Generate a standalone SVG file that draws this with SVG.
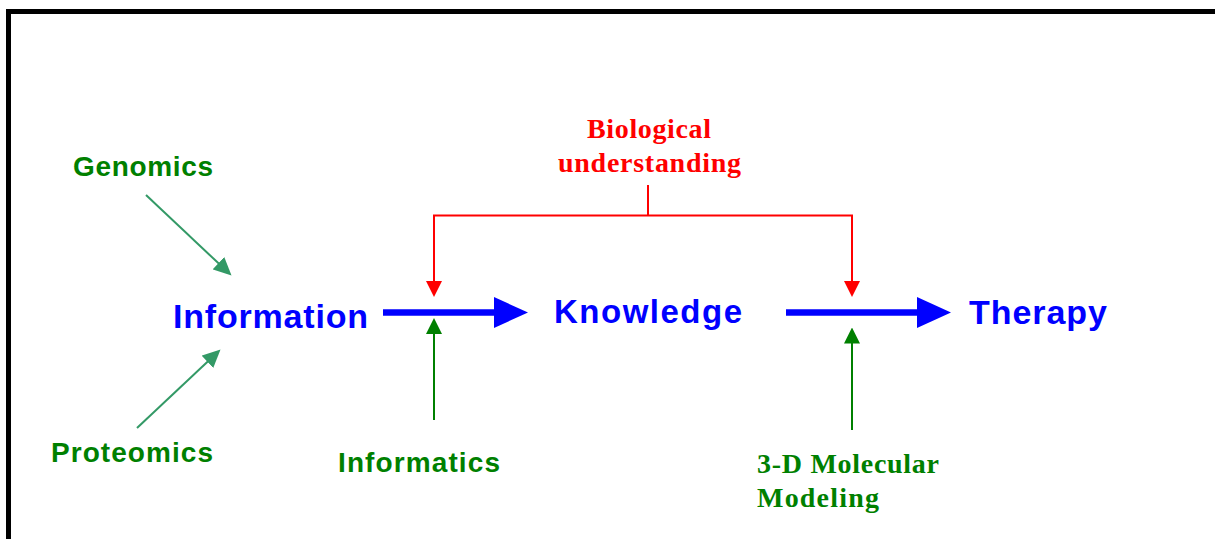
<svg xmlns="http://www.w3.org/2000/svg" width="1216" height="539" viewBox="0 0 1216 539">
  <style>
    .sans { font-family: "Liberation Sans", Arial, sans-serif; font-weight: bold; }
    .serif { font-family: "Liberation Serif", "Times New Roman", serif; font-weight: bold; }
    .blue { fill: #0000ff; }
    .green { fill: #008000; }
    .red { fill: #ff0000; }
    .flow { stroke: #0000ff; stroke-width: 6.5; fill: none; }
    .bio { stroke: #ff0000; stroke-width: 2; fill: none; }
    .tool { stroke: #008000; stroke-width: 2; fill: none; }
    .omics { stroke: #339966; stroke-width: 2; fill: none; }
  </style>
  <defs>
    <marker id="head-blue" markerUnits="userSpaceOnUse" markerWidth="34" markerHeight="31" refX="2" refY="15.5" orient="auto">
      <path d="M0,0 L34,15.5 L0,31 z" fill="#0000ff"/>
    </marker>
    <marker id="head-red" markerUnits="userSpaceOnUse" markerWidth="16" markerHeight="16" refX="8" refY="8" orient="auto">
      <path d="M0,0 L16,8 L0,16 z" fill="#ff0000"/>
    </marker>
    <marker id="head-green" markerUnits="userSpaceOnUse" markerWidth="16" markerHeight="16" refX="8" refY="8" orient="auto">
      <path d="M0,0 L16,8 L0,16 z" fill="#008000"/>
    </marker>
    <marker id="head-teal" markerUnits="userSpaceOnUse" markerWidth="18" markerHeight="17" refX="10" refY="8.5" orient="auto">
      <path d="M0,0 L18,8.5 L0,17 z" fill="#339966"/>
    </marker>
  </defs>

  <rect width="1216" height="539" fill="#ffffff"/>

  <!-- frame -->
  <path d="M8.5,539 V11.5 H1215" fill="none" stroke="#000000" stroke-width="5"/>

  <g id="connectors">
    <!-- main flow -->
    <line class="flow" x1="383" y1="312.5" x2="496" y2="312.5" marker-end="url(#head-blue)"/>
    <line class="flow" x1="786" y1="312.5" x2="919" y2="312.5" marker-end="url(#head-blue)"/>
    <!-- biological understanding feeds both steps -->
    <path class="bio" d="M648,185 V215.5"/>
    <path class="bio" d="M648,215.5 H434 V289" marker-end="url(#head-red)"/>
    <path class="bio" d="M648,215.5 H852 V289" marker-end="url(#head-red)"/>
    <!-- informatics and modeling -->
    <line class="tool" x1="434" y1="420" x2="434" y2="326" marker-end="url(#head-green)"/>
    <line class="tool" x1="852" y1="430" x2="852" y2="335.5" marker-end="url(#head-green)"/>
    <!-- omics inputs -->
    <line class="omics" x1="146" y1="195" x2="225.7" y2="270.1" marker-end="url(#head-teal)"/>
    <line class="omics" x1="137" y1="428" x2="214.7" y2="354.9" marker-end="url(#head-teal)"/>
  </g>

  <g id="genomics"><text class="sans green" x="73" y="176" font-size="28" textLength="140" lengthAdjust="spacing">Genomics</text></g>
  <g id="proteomics"><text class="sans green" x="51" y="462" font-size="28" textLength="162" lengthAdjust="spacing">Proteomics</text></g>
  <g id="information"><text class="sans blue" x="173" y="328" font-size="34" textLength="195" lengthAdjust="spacing">Information</text></g>
  <g id="knowledge"><text class="sans blue" x="554" y="323" font-size="33" textLength="188" lengthAdjust="spacing">Knowledge</text></g>
  <g id="therapy"><text class="sans blue" x="969" y="324" font-size="34" textLength="138" lengthAdjust="spacing">Therapy</text></g>
  <g id="informatics"><text class="sans green" x="338" y="472" font-size="28" textLength="162" lengthAdjust="spacing">Informatics</text></g>
  <g id="biological-understanding">
    <text class="serif red" x="587" y="138" font-size="28" textLength="124" lengthAdjust="spacing">Biological</text>
    <text class="serif red" x="558" y="172" font-size="28" textLength="183" lengthAdjust="spacing">understanding</text>
  </g>
  <g id="molecular-modeling">
    <text class="serif green" x="757" y="473" font-size="28" textLength="182" lengthAdjust="spacing">3-D Molecular</text>
    <text class="serif green" x="757" y="507" font-size="28" textLength="122" lengthAdjust="spacing">Modeling</text>
  </g>
</svg>
